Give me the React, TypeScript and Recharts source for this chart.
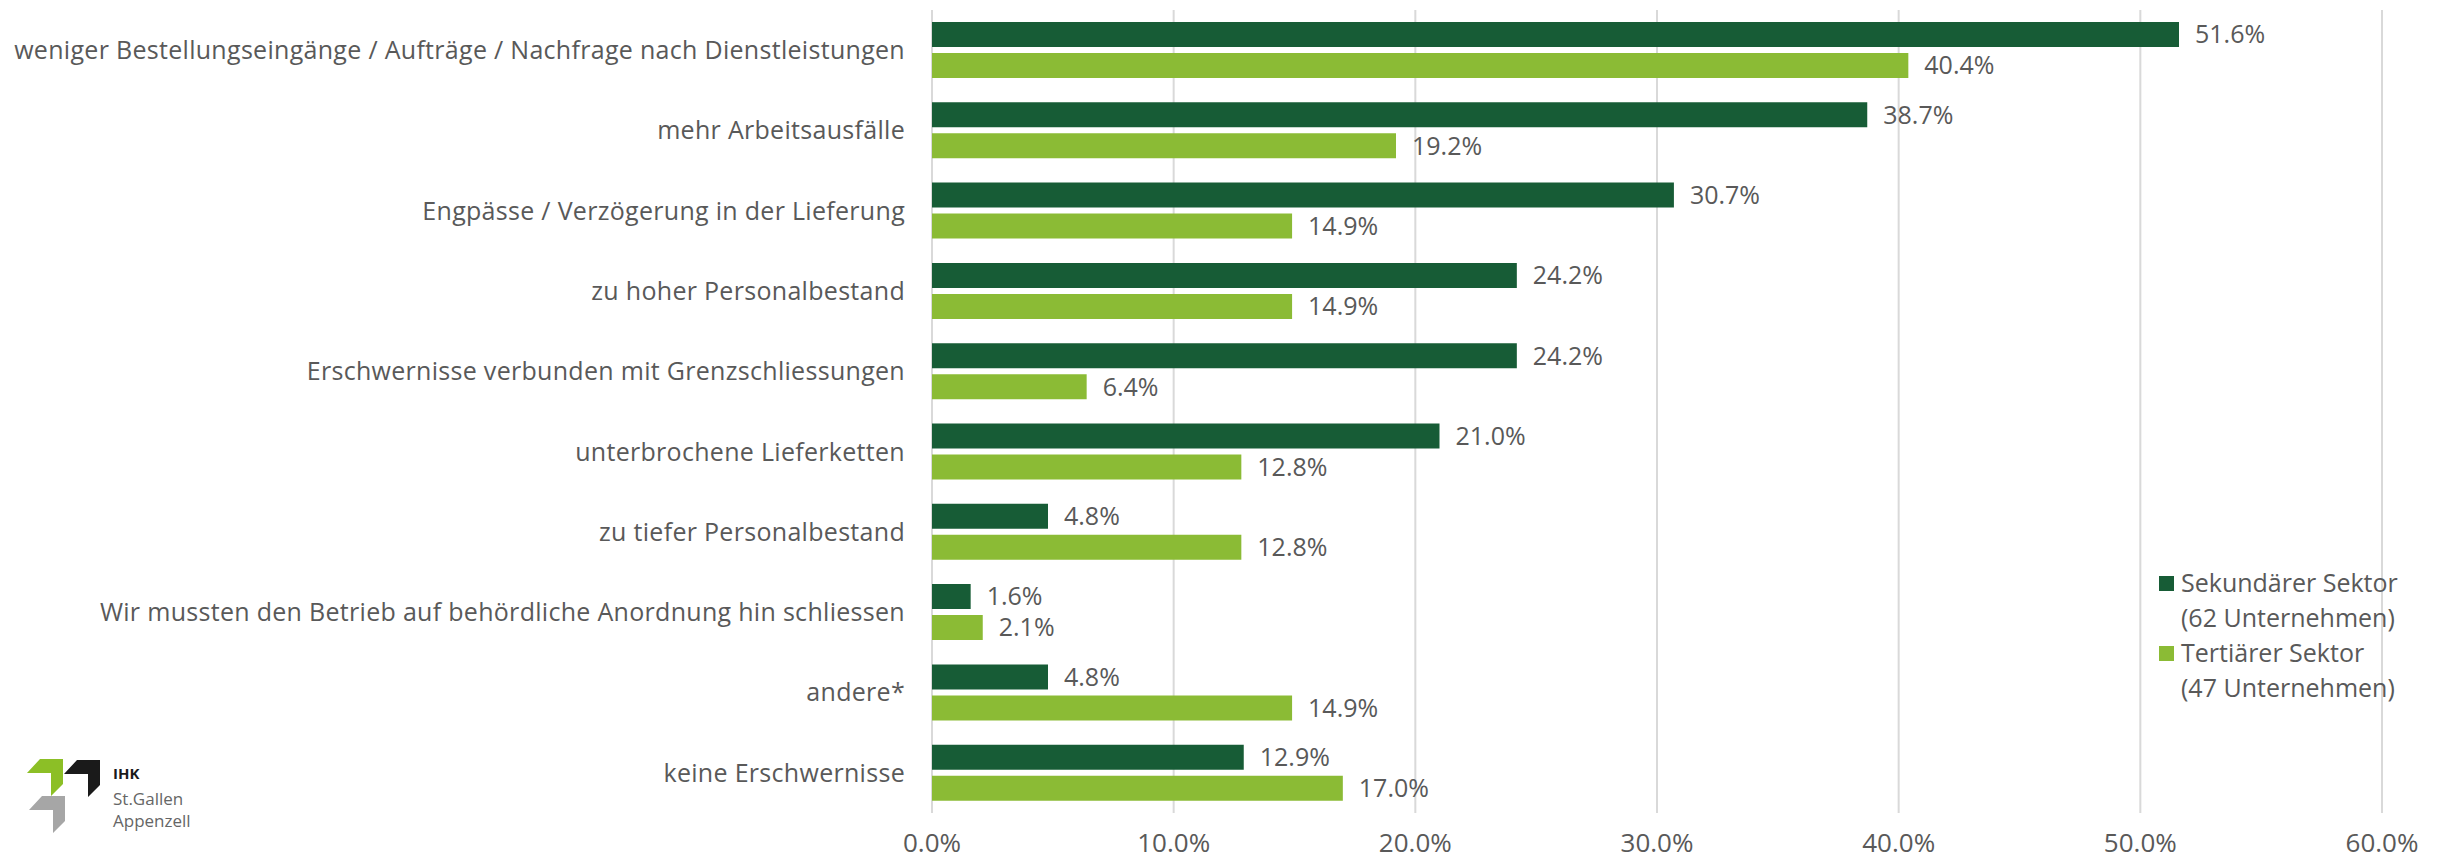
import React from "react";
import { BarChart, Bar, XAxis, YAxis, CartesianGrid, LabelList } from "recharts";

const categories = [
  "weniger Bestellungseingänge / Aufträge / Nachfrage nach Dienstleistungen",
  "mehr Arbeitsausfälle",
  "Engpässe / Verzögerung in der Lieferung",
  "zu hoher Personalbestand",
  "Erschwernisse verbunden mit Grenzschliessungen",
  "unterbrochene Lieferketten",
  "zu tiefer Personalbestand",
  "Wir mussten den Betrieb auf behördliche Anordnung hin schliessen",
  "andere*",
  "keine Erschwernisse",
];
const sekundaer = [51.6, 38.7, 30.7, 24.2, 24.2, 21.0, 4.8, 1.6, 4.8, 12.9];
const tertiaer = [40.4, 19.2, 14.9, 14.9, 6.4, 12.8, 12.8, 2.1, 14.9, 17.0];
const xTicks = [0, 10, 20, 30, 40, 50, 60];

const DARK = "#175c36";
const LIGHT = "#8bbb35";
const TEXT = "#595959";
const FONT = "'Open Sans', sans-serif";

const data = categories.map((name, i) => ({ name, sek: sekundaer[i], ter: tertiaer[i] }));

const pct = (v: any) => Number(v).toFixed(1) + "%";

// x tick drawn with its baseline near the bottom edge
const XTick = ({ x, payload }: any) => (
  <text x={x} y={852} textAnchor="middle" fontFamily={FONT} fontSize={26} fill={TEXT}>
    {pct(payload.value)}
  </text>
);

function LegendBox() {
  const items = [
    { color: DARK, lines: ["Sekundärer Sektor", "(62 Unternehmen)"] },
    { color: LIGHT, lines: ["Tertiärer Sektor", "(47 Unternehmen)"] },
  ];
  return (
    <div
      style={{
        position: "absolute",
        left: 2159,
        top: 565,
        fontFamily: FONT,
        fontSize: 25,
        color: TEXT,
        lineHeight: "35px",
        whiteSpace: "nowrap",
      }}
    >
      {items.map((it, i) => (
        <div key={i} style={{ display: "flex", alignItems: "flex-start" }}>
          <span style={{ width: 15, height: 15, background: it.color, marginTop: 11, marginRight: 7, flex: "none" }} />
          <div>
            {it.lines.map((l, j) => (
              <div key={j}>{l}</div>
            ))}
          </div>
        </div>
      ))}
    </div>
  );
}

function Logo() {
  const shape = "0,14 13,0 36,0 36,25 24,37 24,14";
  return (
    <svg width={220} height={110} style={{ position: "absolute", left: 0, top: 740 }}>
      <polygon points={shape} fill="#8cbf26" transform="translate(27,19)" />
      <polygon points={shape} fill="#1a1a1a" transform="translate(64,20)" />
      <polygon points={shape} fill="#a6a6a6" transform="translate(29,56)" />
      <text x={113} y={39} fontFamily={FONT} fontWeight={700} fontSize={15} fill="#1a1a1a">IHK</text>
      <text x={113} y={65} fontFamily={FONT} fontSize={17} fill="#666">St.Gallen</text>
      <text x={113} y={87} fontFamily={FONT} fontSize={17} fill="#666">Appenzell</text>
    </svg>
  );
}

export default function App() {
  return (
    <div style={{ position: "fixed", left: 0, top: 0, width: 2456, height: 860, background: "#fff", overflow: "hidden" }}>
      <BarChart
        width={2456}
        height={860}
        data={data}
        layout="vertical"
        margin={{ top: 10, right: 74, bottom: 0, left: 0 }}
        barSize={25}
        barGap={6}
      >
        <CartesianGrid horizontal={false} stroke="#d9d9d9" strokeWidth={2} />
        <XAxis
          type="number"
          domain={[0, 60]}
          ticks={xTicks}
          axisLine={false}
          tickLine={false}
          height={47}
          tick={<XTick />}
          interval={0}
        />
        <YAxis
          type="category"
          dataKey="name"
          width={932}
          axisLine={false}
          tickLine={false}
          tickSize={0}
          tickMargin={27}
          interval={0}
          tick={{ fontFamily: FONT, fontSize: 25, fill: TEXT, letterSpacing: 0.3 }}
        />
        <Bar dataKey="sek" fill={DARK} isAnimationActive={false}>
          <LabelList dataKey="sek" position="right" offset={16} formatter={pct} fill={TEXT} fontSize={25} fontFamily={FONT} />
        </Bar>
        <Bar dataKey="ter" fill={LIGHT} isAnimationActive={false}>
          <LabelList dataKey="ter" position="right" offset={16} formatter={pct} fill={TEXT} fontSize={25} fontFamily={FONT} />
        </Bar>
      </BarChart>
      <LegendBox />
      <Logo />
    </div>
  );
}
